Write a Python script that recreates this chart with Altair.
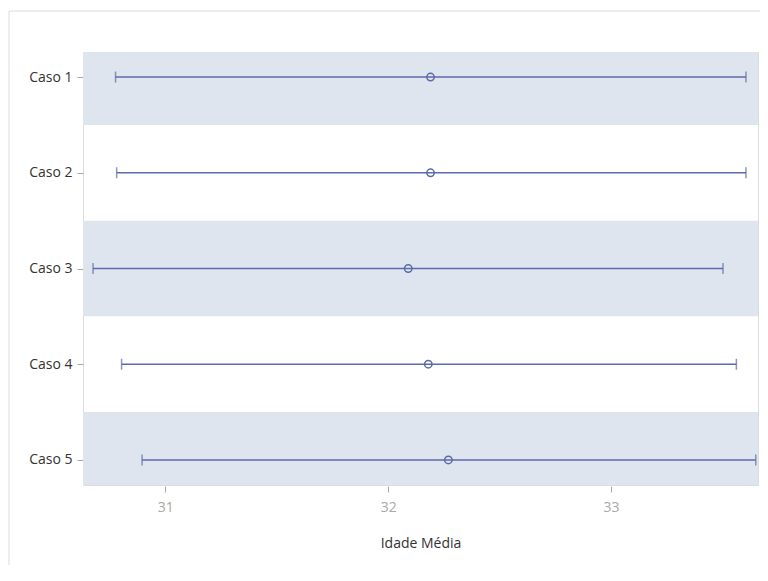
import json
import altair as alt
import pandas as pd

cases = ["Caso 1", "Caso 2", "Caso 3", "Caso 4", "Caso 5"]
mean_age = [32.19, 32.19, 32.09, 32.18, 32.27]
lower = [30.777, 30.782, 30.676, 30.804, 30.896]
upper = [33.605, 33.605, 33.502, 33.562, 33.649]
x_ticks = [31, 32, 33]

W, H = 675, 433
LINE = "#5b6aa8"
BAND = "#dfe5ef"

df = pd.DataFrame({
    "caso": cases,
    "idx": list(range(1, len(cases) + 1)),
    "media": mean_age,
    "inf": lower,
    "sup": upper,
})

label_expr = json.dumps(cases) + "[datum.value - 1]"

x_scale = alt.Scale(domain=[30.631, 33.659], nice=False, zero=False)
y_scale = alt.Scale(domain=[0.738, 5.262], reverse=True, nice=False, zero=False)

base = alt.Chart(df)

bands = base.transform_filter("datum.idx % 2 == 1").transform_calculate(
    lo="datum.idx - 0.5", hi="datum.idx + 0.5"
).mark_rect(color=BAND, clip=True).encode(
    x=alt.value(0),
    x2=alt.value(W),
    y=alt.Y("lo:Q", scale=y_scale),
    y2="hi:Q",
)

rule = base.mark_rule(color=LINE, strokeWidth=1.5).encode(
    x=alt.X("inf:Q", scale=x_scale,
            axis=alt.Axis(values=x_ticks, format="d", title="Idade Média", grid=False,
                          domain=False, tickColor="#a8a8a8", tickSize=6, offset=1,
                          labelColor="#a8a8a8", labelFontSize=14, labelPadding=8,
                          titleFontSize=14, titleColor="#333333", titleFontWeight="normal",
                          titlePadding=22)),
    x2="sup:Q",
    y=alt.Y("idx:Q", scale=y_scale,
            axis=alt.Axis(values=list(range(1, len(cases) + 1)), labelExpr=label_expr,
                          title=None, grid=False, domain=False, tickColor="#a8a8a8",
                          tickSize=6, labelColor="#333333", labelFontSize=14,
                          labelPadding=5)),
)

cap_lo = base.mark_tick(orient="vertical", color=LINE, size=11, thickness=1.5).encode(
    x=alt.X("inf:Q", scale=x_scale), y=alt.Y("idx:Q", scale=y_scale)
)
cap_hi = base.mark_tick(orient="vertical", color=LINE, size=11, thickness=1.5).encode(
    x=alt.X("sup:Q", scale=x_scale), y=alt.Y("idx:Q", scale=y_scale)
)

pts = base.mark_point(shape="circle", filled=False, color=LINE, size=55, strokeWidth=1.5,
                      opacity=1).encode(
    x=alt.X("media:Q", scale=x_scale), y=alt.Y("idx:Q", scale=y_scale)
)

border_top = alt.Chart(pd.DataFrame({"a": [0]})).mark_rule(color="#dcdcdc", strokeWidth=1).encode(
    x=alt.value(-74), x2=alt.value(W + 10), y=alt.value(-41)
)
border_left = alt.Chart(pd.DataFrame({"a": [0]})).mark_rule(color="#dcdcdc", strokeWidth=1).encode(
    x=alt.value(-74), y=alt.value(-41), y2=alt.value(H + 100)
)

chart = alt.layer(bands, rule, cap_lo, cap_hi, pts, border_top, border_left).properties(
    width=W, height=H,
    autosize=alt.AutoSizeParams(type="none"),
    padding={"left": 75, "top": 44, "right": 2, "bottom": 80},
).configure_view(
    stroke="#a8a8a8", strokeWidth=1.5
).configure(
    font="Open Sans"
)

chart.save("out.html", embed_options={"renderer": "svg", "actions": False})
